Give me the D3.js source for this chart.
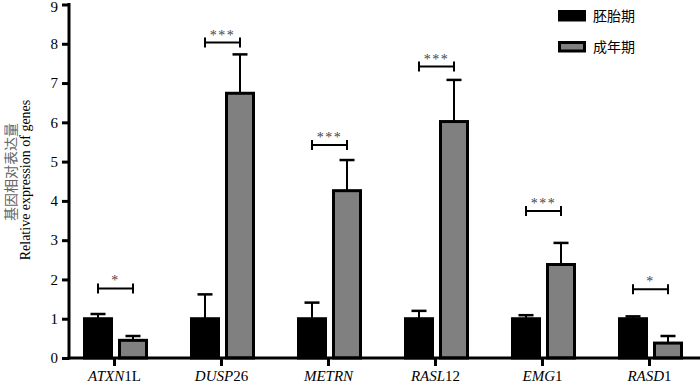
<!DOCTYPE html>
<html>
<head>
<meta charset="utf-8">
<script src="https://cdn.jsdelivr.net/npm/d3@7"></script>
<style>
  html, body { margin: 0; padding: 0; background: #fff; }
  svg text { font-family: "Liberation Serif", "Times New Roman", "Noto Sans CJK SC", serif; }
  .cjk { font-family: "Noto Sans CJK SC", sans-serif; }
</style>
</head>
<body>
<div id="graphic"></div>
<script>
// data
const genes = ['ATXN1L', 'DUSP26', 'METRN', 'RASL12', 'EMG1', 'RASD1'];
const geneItalic = ['ATXN', 'DUSP', 'METRN', 'RASL', 'EMG', 'RASD'];
const geneSuffix = ['1L', '26', '', '12', '1', '1'];
const groups = ['胚胎期', '成年期'];
const embryo = [1, 1, 1, 1, 1, 1];
const embryoErr = [0.12, 0.62, 0.41, 0.2, 0.09, 0.06];
const adult = [0.45, 6.74, 4.26, 6.02, 2.38, 0.38];
const adultErr = [0.11, 0.99, 0.78, 1.06, 0.55, 0.18];
const sigText = ['*', '***', '***', '***', '***', '*'];
const sigLevel = [1.77, 8.03, 5.42, 7.42, 3.74, 1.75];
const yTicks = [0, 1, 2, 3, 4, 5, 6, 7, 8, 9];

const width = 700, height = 385;
const axisX = 69, zeroY = 358;
const colours = { '胚胎期': '#000', '成年期': '#808080' };

const svg = d3.select('#graphic').append('svg')
	.attr('width', width).attr('height', height);

const x = d3.scalePoint().domain(genes).range([114, 649]);
const xSub = d3.scaleBand().domain(groups).range([-31, 34]).paddingInner(5 / 35);
const y = d3.scaleLinear().domain([0, 9]).range([zeroY, 4.5]);

const rows = genes.map((g, i) => ({
	gene: g,
	values: [
		{ key: groups[0], v: embryo[i], e: embryoErr[i] },
		{ key: groups[1], v: adult[i], e: adultErr[i] }
	],
	sig: sigText[i], sigY: sigLevel[i]
}));

// bars
const gGene = svg.selectAll('g.gene').data(rows).join('g')
	.attr('class', 'gene')
	.attr('transform', d => `translate(${x(d.gene)},0)`);

gGene.selectAll('line.err').data(d => d.values).join('line')
	.attr('class', 'err')
	.attr('x1', d => xSub(d.key) + xSub.bandwidth() / 2)
	.attr('x2', d => xSub(d.key) + xSub.bandwidth() / 2)
	.attr('y1', d => y(d.v))
	.attr('y2', d => y(d.v + d.e))
	.attr('stroke', '#000').attr('stroke-width', 2);

gGene.selectAll('line.cap').data(d => d.values).join('line')
	.attr('class', 'cap')
	.attr('x1', d => xSub(d.key) + xSub.bandwidth() / 2 - 7.5)
	.attr('x2', d => xSub(d.key) + xSub.bandwidth() / 2 + 7.5)
	.attr('y1', d => y(d.v + d.e))
	.attr('y2', d => y(d.v + d.e))
	.attr('stroke', '#000').attr('stroke-width', 2.5);

gGene.selectAll('rect').data(d => d.values).join('rect')
	.attr('x', d => xSub(d.key) + 1.5)
	.attr('width', xSub.bandwidth() - 3)
	.attr('y', d => y(d.v))
	.attr('height', d => y(0) - y(d.v))
	.attr('fill', d => colours[d.key])
	.attr('stroke', '#000').attr('stroke-width', 3);

// significance brackets
const bx0 = xSub(groups[0]) + xSub.bandwidth() / 2;
const bx1 = xSub(groups[1]) + xSub.bandwidth() / 2;
gGene.append('path')
	.attr('d', d => {
		const yy = y(d.sigY);
		return `M${bx0},${yy - 5}V${yy + 5}M${bx0},${yy}H${bx1}M${bx1},${yy - 5}V${yy + 5}`;
	})
	.attr('fill', 'none').attr('stroke', '#000').attr('stroke-width', 2);

gGene.append('text')
	.attr('x', (bx0 + bx1) / 2)
	.attr('y', d => y(d.sigY) - 3)
	.attr('text-anchor', 'middle')
	.attr('font-size', 14)
	.attr('fill', '#444')
	.attr('letter-spacing', 1.5)
	.text(d => d.sig);

// y axis
const yAxis = svg.append('g')
	.attr('transform', `translate(${axisX},0)`)
	.call(d3.axisLeft(y).tickValues(yTicks).tickSize(7).tickPadding(4).tickFormat(d3.format('d')));
yAxis.select('.domain').remove();
yAxis.selectAll('.tick line').attr('stroke', '#000').attr('stroke-width', 3);
yAxis.selectAll('.tick text').attr('font-size', 15).attr('fill', '#000')
	.style('font-family', '"Liberation Serif", serif')
	.attr('dy', d => d === 9 ? '0.45em' : '0.32em');
yAxis.append('line')
	.attr('x1', 0).attr('x2', 0).attr('y1', y(9) - 1.5).attr('y2', zeroY + 1.5)
	.attr('stroke', '#000').attr('stroke-width', 3);

// x axis
const xAxis = svg.append('g')
	.attr('transform', `translate(0,${zeroY})`)
	.call(d3.axisBottom(x).tickSize(8).tickPadding(9).tickFormat(''));
xAxis.select('.domain').remove();
xAxis.selectAll('.tick line').attr('stroke', '#000').attr('stroke-width', 3);
xAxis.append('line')
	.attr('x1', axisX - 1.5).attr('x2', width).attr('y1', 0).attr('y2', 0)
	.attr('stroke', '#000').attr('stroke-width', 3);

const xLab = xAxis.selectAll('.tick').append('text')
	.attr('y', 23)
	.attr('fill', '#000')
	.attr('font-size', 15)
	.attr('text-anchor', 'middle');
xLab.append('tspan')
	.attr('font-style', 'italic')
	.text(d => geneItalic[genes.indexOf(d)]);
xLab.append('tspan')
	.text(d => geneSuffix[genes.indexOf(d)]);

// y axis titles
svg.append('text')
	.attr('class', 'cjk')
	.attr('transform', 'translate(16,172) rotate(-90)')
	.attr('text-anchor', 'middle')
	.attr('font-size', 14)
	.attr('fill', '#666')
	.text('基因相对表达量');
svg.append('text')
	.attr('transform', 'translate(30,180) rotate(-90)')
	.attr('text-anchor', 'middle')
	.attr('font-size', 14)
	.attr('fill', '#000')
	.text('Relative expression of genes');

// legend
const legend = svg.append('g').attr('transform', 'translate(558,10)');
const legItem = legend.selectAll('g').data(groups).join('g')
	.attr('transform', (d, i) => `translate(0,${i * 31})`);
legItem.append('rect')
	.attr('x', 1.5).attr('y', 1.5)
	.attr('width', 25).attr('height', 8.5)
	.attr('fill', d => colours[d])
	.attr('stroke', '#000').attr('stroke-width', 3);
legItem.append('text')
	.attr('class', 'cjk')
	.attr('x', 35).attr('y', 6)
	.attr('dy', '0.35em')
	.attr('font-size', 14)
	.attr('fill', '#000')
	.text(d => d);
</script>
</body>
</html>
